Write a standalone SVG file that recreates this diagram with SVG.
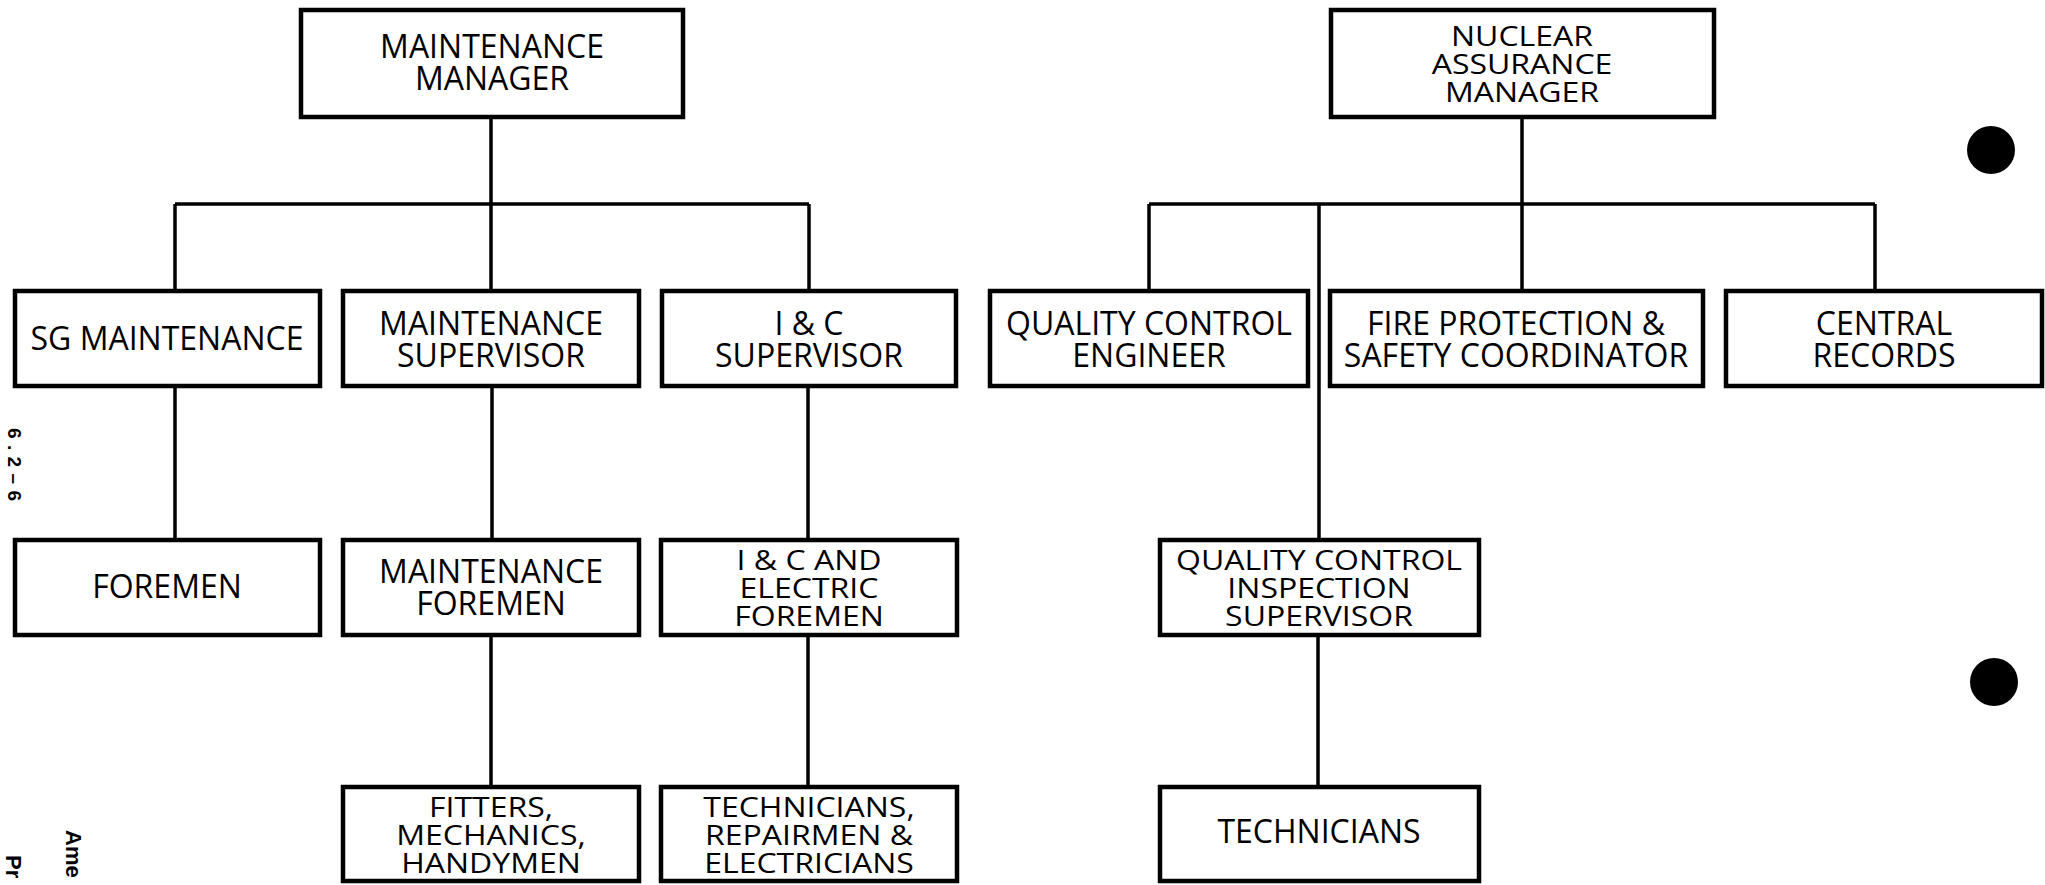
<svg xmlns="http://www.w3.org/2000/svg" width="2045" height="885" viewBox="0 0 2045 885">
<style>
.box{fill:#fff;stroke:#000;stroke-width:4.5}
.ln{fill:none;stroke:#000;stroke-width:3.5}
.t{font-family:"Open Sans","Noto Sans","Liberation Sans",sans-serif;font-size:32px;font-weight:500;fill:#000;text-anchor:middle}
.m{font-family:"Liberation Sans",Arial,sans-serif;font-weight:bold;font-size:19px;fill:#000}
</style>
<rect width="2045" height="885" fill="#fff"/>
<g id="connectors">
<path class="ln" d="M491,118V204M175,204H809M175,204V291M491,204V291M809,204V291"/>
<path class="ln" d="M175,386V540M492,386V540M491,635V787M808,386V540M808,635V787"/>
<path class="ln" d="M1522,118V204M1149,204H1875M1149,204V291M1522,204V291M1875,204V291M1319,204V540M1318,635V787"/>
</g>
<g id="maintenance-manager"><rect class="box" x="301" y="10" width="382" height="107"/><text class="t"><tspan x="492" y="58">MAINTENANCE</tspan><tspan x="492" y="90">MANAGER</tspan></text></g>
<g id="nuclear-assurance-manager"><rect class="box" x="1331" y="10" width="383" height="107"/><g transform="translate(1522,74) scale(1,0.87)"><text class="t"><tspan x="0" y="-32">NUCLEAR</tspan><tspan x="0" y="0">ASSURANCE</tspan><tspan x="0" y="32">MANAGER</tspan></text></g></g>
<g id="sg-maintenance"><rect class="box" x="15" y="291" width="305" height="95"/><text class="t" x="167" y="350">SG MAINTENANCE</text></g>
<g id="maintenance-supervisor"><rect class="box" x="343" y="291" width="296" height="95"/><text class="t"><tspan x="491" y="335">MAINTENANCE</tspan><tspan x="491" y="367">SUPERVISOR</tspan></text></g>
<g id="ic-supervisor"><rect class="box" x="662" y="291" width="294" height="95"/><text class="t"><tspan x="809" y="335">I &amp; C</tspan><tspan x="809" y="367">SUPERVISOR</tspan></text></g>
<g id="qc-engineer"><rect class="box" x="990" y="291" width="318" height="95"/><text class="t"><tspan x="1149" y="335">QUALITY CONTROL</tspan><tspan x="1149" y="367">ENGINEER</tspan></text></g>
<g id="fire-protection"><rect class="box" x="1330" y="291" width="373" height="95"/><text class="t"><tspan x="1516" y="335">FIRE PROTECTION &amp;</tspan><tspan x="1516" y="367">SAFETY COORDINATOR</tspan></text></g>
<g id="central-records"><rect class="box" x="1726" y="291" width="316" height="95"/><text class="t"><tspan x="1884" y="335">CENTRAL</tspan><tspan x="1884" y="367">RECORDS</tspan></text></g>
<g id="foremen"><rect class="box" x="15" y="540" width="305" height="95"/><text class="t" x="167" y="598">FOREMEN</text></g>
<g id="maintenance-foremen"><rect class="box" x="343" y="540" width="296" height="95"/><text class="t"><tspan x="491" y="583">MAINTENANCE</tspan><tspan x="491" y="615">FOREMEN</tspan></text></g>
<g id="ic-electric-foremen"><rect class="box" x="661" y="540" width="296" height="95"/><g transform="translate(809,598) scale(1,0.87)"><text class="t"><tspan x="0" y="-32">I &amp; C AND</tspan><tspan x="0" y="0">ELECTRIC</tspan><tspan x="0" y="32">FOREMEN</tspan></text></g></g>
<g id="qc-inspection-supervisor"><rect class="box" x="1160" y="540" width="319" height="95"/><g transform="translate(1319,598) scale(1,0.87)"><text class="t"><tspan x="0" y="-32">QUALITY CONTROL</tspan><tspan x="0" y="0">INSPECTION</tspan><tspan x="0" y="32">SUPERVISOR</tspan></text></g></g>
<g id="fitters"><rect class="box" x="343" y="787" width="296" height="94"/><g transform="translate(491,845) scale(1,0.87)"><text class="t"><tspan x="0" y="-32">FITTERS,</tspan><tspan x="0" y="0">MECHANICS,</tspan><tspan x="0" y="32">HANDYMEN</tspan></text></g></g>
<g id="technicians-repairmen"><rect class="box" x="661" y="787" width="296" height="94"/><g transform="translate(809,845) scale(1,0.87)"><text class="t"><tspan x="0" y="-32">TECHNICIANS,</tspan><tspan x="0" y="0">REPAIRMEN &amp;</tspan><tspan x="0" y="32">ELECTRICIANS</tspan></text></g></g>
<g id="technicians"><rect class="box" x="1160" y="787" width="319" height="94"/><text class="t" x="1319" y="843">TECHNICIANS</text></g>
<ellipse cx="1991" cy="150" rx="24" ry="24" fill="#000"/>
<ellipse cx="1994" cy="682" rx="24" ry="24" fill="#000"/>
<text class="m" transform="translate(8,428) rotate(90)" textLength="73" lengthAdjust="spacing">6.2–6</text>
<text class="m" style="font-size:22px" transform="translate(66,830) rotate(90)">Ame</text>
<text class="m" style="font-size:22px" transform="translate(6,855) rotate(90)">Pr</text>
</svg>
